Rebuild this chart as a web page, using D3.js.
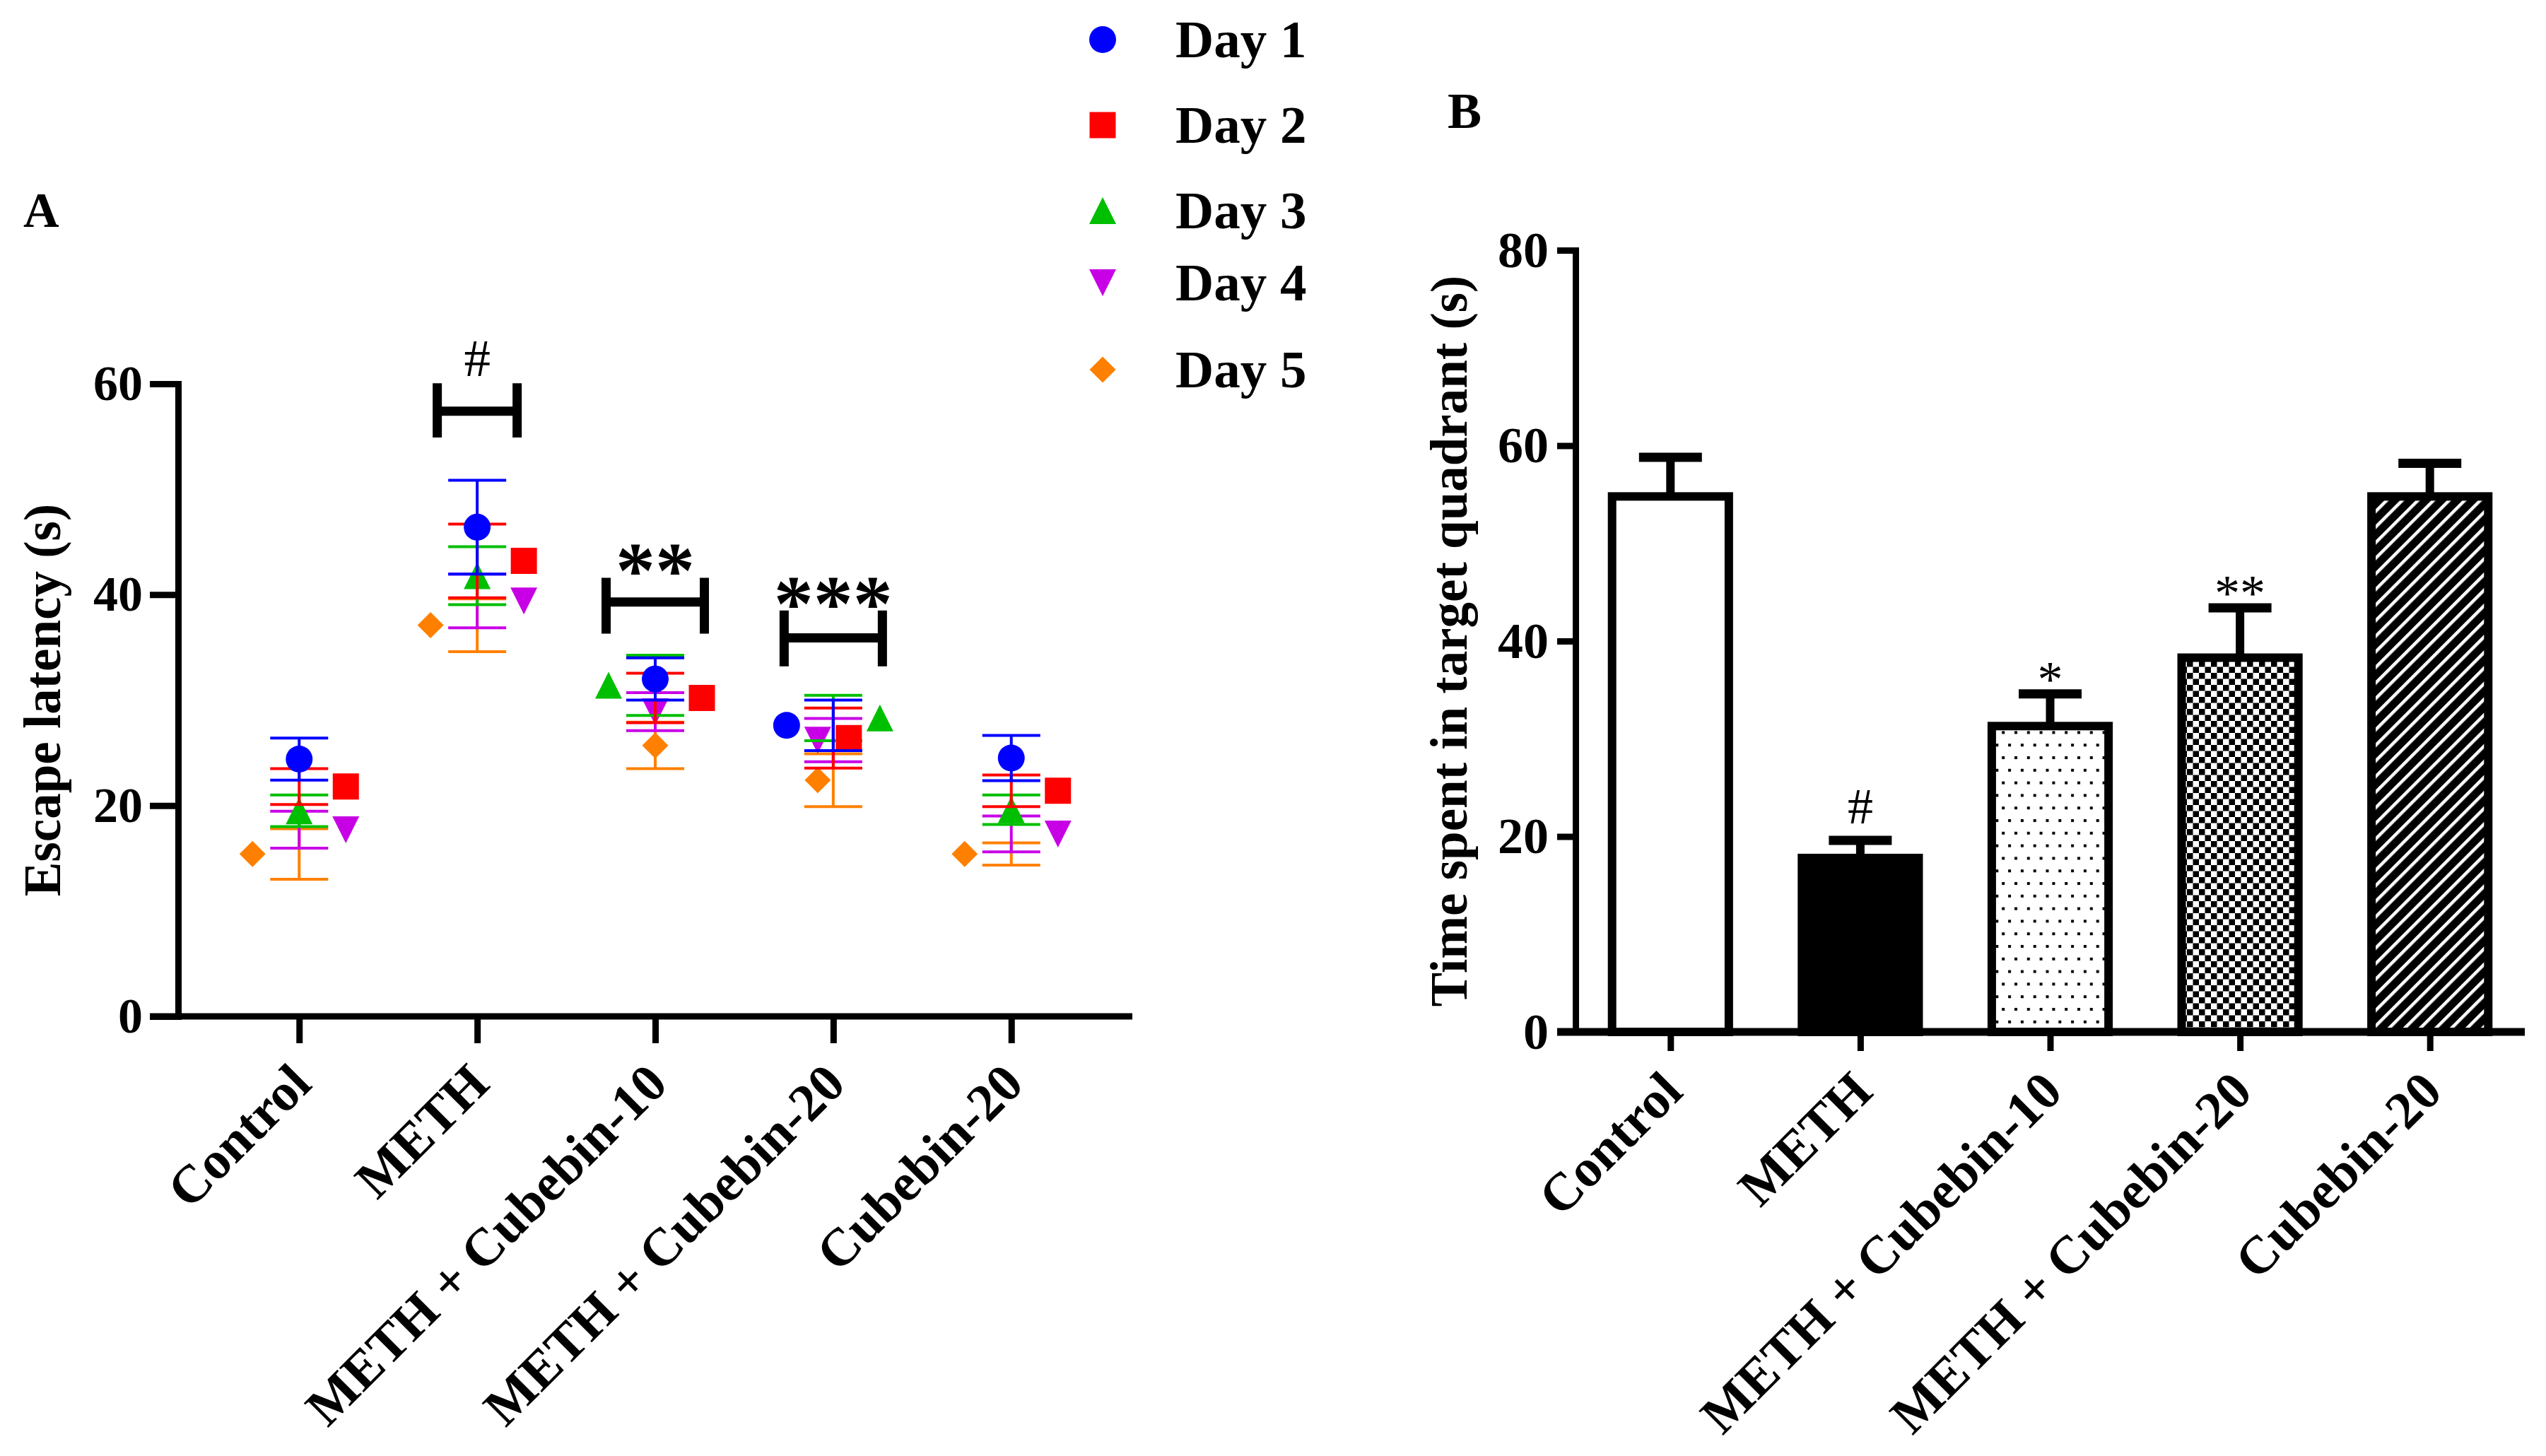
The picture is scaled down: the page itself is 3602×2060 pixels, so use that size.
<!DOCTYPE html>
<html>
<head>
<meta charset="utf-8">
<script src="https://cdn.jsdelivr.net/npm/d3@7"></script>
<style>
  body { margin: 0; background: #fff; }
  svg { display: block; font-family: "Liberation Serif", "Times New Roman", serif; }
</style>
</head>
<body>
<svg id="chart" width="3602" height="2060"></svg>
<script>
// ---- data ----
const groups = ["Control", "METH", "METH + Cubebin-10", "METH + Cubebin-20", "Cubebin-20"];
const days = ["Day 1", "Day 2", "Day 3", "Day 4", "Day 5"];

// Panel A: escape latency (s), one row per day, one column per group
const latencyMean = [
  [24.4, 46.4, 32.0, 27.6, 24.5],
  [21.8, 43.2, 30.2, 26.4, 21.4],
  [19.5, 41.8, 31.4, 28.3, 19.6],
  [17.7, 39.4, 28.9, 26.2, 17.3],
  [15.4, 37.1, 25.7, 22.4, 15.4]
];
const latencySem = [
  [2.0, 4.45, 2.0, 2.4, 2.15],
  [1.7, 3.5, 2.35, 2.85, 1.5],
  [1.5, 2.75, 2.85, 2.15, 1.4],
  [1.75, 2.55, 1.8, 2.05, 1.7],
  [2.4, 2.5, 2.2, 2.5, 1.05]
];
// symbol nudge slot (GraphPad spreads overlapping symbols sideways)
const latencyNudge = [
  [0, 0, 0, -3, 0],
  [3, 3, 3, 1, 3],
  [0, 0, -3, 3, 0],
  [3, 3, 0, -1, 3],
  [-3, -3, 0, -1, -3]
];
const sigGroupsA = ["METH", "METH + Cubebin-10", "METH + Cubebin-20"];
const sigLabelsA = ["#", "**", "***"];
const sigMidA = [57.4, 39.3, 35.9];
const sigLowA = [54.9, 36.3, 33.2];
const sigHighA = [60.05, 41.6, 38.5];
const ticksA = [0, 20, 40, 60];

// Panel B: time spent in target quadrant (s)
const timeMean = [54.8, 17.8, 31.3, 38.3, 54.8];
const timeSem = [4.0, 1.8, 3.3, 5.1, 3.4];
const timeSig = ["", "#", "*", "**", ""];
const ticksB = [0, 20, 40, 60, 80];

// ---- styles ----
const dayColors = ["#0000FF", "#FF0000", "#00BF00", "#C800E6", "#FF8000"];
const fillsB = ["#fff", "#000", "url(#dots)", "url(#checker)", "url(#stripes)"];
const bracketW = [113, 139, 139];
const legendY = [56, 177, 298, 400, 523];

const triUp = { draw(ctx, size) { const w = Math.sqrt(size) / 2; ctx.moveTo(0, -w); ctx.lineTo(w, w); ctx.lineTo(-w, w); ctx.closePath(); } };
const triDown = { draw(ctx, size) { const w = Math.sqrt(size) / 2; ctx.moveTo(0, w); ctx.lineTo(w, -w); ctx.lineTo(-w, -w); ctx.closePath(); } };
const diamond = { draw(ctx, size) { const w = Math.sqrt(size) / 2; ctx.moveTo(0, -w); ctx.lineTo(w, 0); ctx.lineTo(0, w); ctx.lineTo(-w, 0); ctx.closePath(); } };
const daySymbols = [
  d3.symbol().type(d3.symbolCircle).size(Math.PI * 19 * 19),
  d3.symbol().type(d3.symbolSquare).size(37 * 37),
  d3.symbol().type(triUp).size(38 * 38),
  d3.symbol().type(triDown).size(38 * 38),
  d3.symbol().type(diamond).size(37 * 37)
];

const svg = d3.select("#chart");
svg.append("rect").attr("width", 3602).attr("height", 2060).attr("fill", "#fff");

// fill patterns for panel B
const defs = svg.append("defs");
const dots = defs.append("pattern").attr("id", "dots").attr("patternUnits", "userSpaceOnUse")
  .attr("width", 17.8).attr("height", 35.6);
dots.append("rect").attr("width", 17.8).attr("height", 35.6).attr("fill", "#fff");
dots.append("rect").attr("x", 2).attr("y", 2).attr("width", 4).attr("height", 4).attr("fill", "#000");
dots.append("rect").attr("x", 10.9).attr("y", 19.8).attr("width", 4).attr("height", 4).attr("fill", "#000");

const checker = defs.append("pattern").attr("id", "checker").attr("patternUnits", "userSpaceOnUse")
  .attr("width", 17).attr("height", 17);
checker.append("rect").attr("width", 17).attr("height", 17).attr("fill", "#fff");
checker.append("rect").attr("width", 8.5).attr("height", 8.5).attr("fill", "#000");
checker.append("rect").attr("x", 8.5).attr("y", 8.5).attr("width", 8.5).attr("height", 8.5).attr("fill", "#000");

const stripes = defs.append("pattern").attr("id", "stripes").attr("patternUnits", "userSpaceOnUse")
  .attr("width", 15.6).attr("height", 15.6).attr("patternTransform", "rotate(45)");
stripes.append("rect").attr("width", 15.6).attr("height", 15.6).attr("fill", "#000");
stripes.append("rect").attr("width", 4.5).attr("height", 15.6).attr("fill", "#fff");

function styleAxis(g, stroke, fontSize) {
  g.select(".domain").attr("stroke", "#000").attr("stroke-width", stroke).attr("stroke-linecap", "square");
  g.selectAll(".tick line").attr("stroke", "#000").attr("stroke-width", stroke);
  g.selectAll(".tick text").attr("fill", "#000")
    .style("font-size", fontSize + "px").style("font-weight", "bold")
    .style("font-family", "'Liberation Serif', 'Times New Roman', serif");
}

function rotateLabels(g, tickLen) {
  g.selectAll(".tick text")
    .attr("x", 0).attr("y", 0).attr("dy", 0)
    .attr("text-anchor", "end")
    .attr("transform", `translate(20,${tickLen + 61}) rotate(-45)`);
}

// ================= Panel A =================
const xA = d3.scalePoint().domain(groups).range([252, 1602]).padding(0.68);
const yA = d3.scaleLinear().domain([0, 60]).range([1438, 543]);
const yAxisTickA = 40, xAxisTickA = 38;

const gyA = svg.append("g").attr("transform", `translate(${xA.range()[0]},0)`)
  .call(d3.axisLeft(yA).tickValues(ticksA).tickSize(yAxisTickA).tickSizeOuter(0).tickPadding(10));
styleAxis(gyA, 9, 70);

const gxA = svg.append("g").attr("transform", `translate(0,${yA(0)})`)
  .call(d3.axisBottom(xA).tickSize(xAxisTickA).tickSizeOuter(0));
gxA.select(".domain").remove();
styleAxis(gxA, 9, 75);
rotateLabels(gxA, xAxisTickA);
svg.append("line")
  .attr("x1", xA.range()[0] - yAxisTickA).attr("x2", xA.range()[1])
  .attr("y1", yA(0)).attr("y2", yA(0))
  .attr("stroke", "#000").attr("stroke-width", 9);

// error bars + symbols, Day 5 first so Day 1 ends on top
const nudgeStep = 22, capHalf = 41;
for (let d = days.length - 1; d >= 0; d--) {
  const rows = groups.map((g, i) => ({ g, m: latencyMean[d][i], s: latencySem[d][i], n: latencyNudge[d][i] }));
  const layer = svg.append("g").attr("class", "day-" + (d + 1));
  const eb = layer.selectAll(".err").data(rows).join("g").attr("class", "err")
    .attr("stroke", dayColors[d]).attr("stroke-width", 4);
  eb.append("line").attr("x1", r => xA(r.g)).attr("x2", r => xA(r.g))
    .attr("y1", r => yA(r.m - r.s)).attr("y2", r => yA(r.m + r.s));
  eb.append("line").attr("x1", r => xA(r.g) - capHalf).attr("x2", r => xA(r.g) + capHalf)
    .attr("y1", r => yA(r.m + r.s)).attr("y2", r => yA(r.m + r.s));
  eb.append("line").attr("x1", r => xA(r.g) - capHalf).attr("x2", r => xA(r.g) + capHalf)
    .attr("y1", r => yA(r.m - r.s)).attr("y2", r => yA(r.m - r.s));
  layer.selectAll(".sym").data(rows).join("path").attr("class", "sym")
    .attr("d", daySymbols[d])
    .attr("transform", r => `translate(${xA(r.g) + r.n * nudgeStep},${yA(r.m)})`)
    .attr("fill", dayColors[d]);
}

// significance brackets
sigGroupsA.forEach((g, i) => {
  const cx = xA(g), w = bracketW[i] / 2;
  const top = yA(sigHighA[i]), bot = yA(sigLowA[i]), mid = yA(sigMidA[i]);
  svg.append("path")
    .attr("d", `M${cx - w},${top}V${bot}M${cx - w},${mid}H${cx + w}M${cx + w},${top}V${bot}`)
    .attr("fill", "none").attr("stroke", "#000").attr("stroke-width", 13);
  const isHash = sigLabelsA[i] === "#";
  svg.append("text")
    .attr("x", cx).attr("y", isHash ? top - 10 : top + 28)
    .attr("text-anchor", "middle")
    .style("font-size", isHash ? "75px" : "112px")
    .style("font-weight", isHash ? "normal" : "bold")
    .text(sigLabelsA[i]);
});

svg.append("text")
  .attr("transform", `translate(85,${(yA(0) + yA(60)) / 2}) rotate(-90)`)
  .attr("text-anchor", "middle")
  .style("font-size", "73px").style("font-weight", "bold")
  .text("Escape latency (s)");

svg.append("text").attr("x", 33).attr("y", 321)
  .style("font-size", "70px").style("font-weight", "bold").text("A");

// legend
const legend = svg.append("g").selectAll("g").data(days).join("g")
  .attr("transform", (d, i) => `translate(1560,${legendY[i]})`);
legend.append("path").attr("d", (d, i) => daySymbols[i]()).attr("fill", (d, i) => dayColors[i]);
legend.append("text").attr("x", 103).attr("y", 25)
  .style("font-size", "75px").style("font-weight", "bold").text(d => d);

// ================= Panel B =================
const xB = d3.scalePoint().domain(groups).range([2229, 3572]).padding(0.5);
const yB = d3.scaleLinear().domain([0, 80]).range([1460, 354]);
const yAxisTickB = 26, xAxisTickB = 27;
const barW = xB.step() * 0.615, capHalfB = 44.5;

const gyB = svg.append("g").attr("transform", `translate(${xB.range()[0]},0)`)
  .call(d3.axisLeft(yB).tickValues(ticksB).tickSize(yAxisTickB).tickSizeOuter(0).tickPadding(12));
styleAxis(gyB, 9, 72);

const barsB = groups.map((g, i) => ({ g, m: timeMean[i], s: timeSem[i], sig: timeSig[i], fill: fillsB[i] }));

const errB = svg.append("g").selectAll("g").data(barsB).join("g")
  .attr("stroke", "#000");
errB.append("line").attr("x1", r => xB(r.g)).attr("x2", r => xB(r.g))
  .attr("y1", r => yB(r.m)).attr("y2", r => yB(r.m + r.s)).attr("stroke-width", 12);
errB.append("line").attr("x1", r => xB(r.g) - capHalfB).attr("x2", r => xB(r.g) + capHalfB)
  .attr("y1", r => yB(r.m + r.s)).attr("y2", r => yB(r.m + r.s)).attr("stroke-width", 13);

svg.append("g").selectAll("rect").data(barsB).join("rect")
  .attr("x", r => xB(r.g) - barW / 2).attr("width", barW)
  .attr("y", r => yB(r.m)).attr("height", r => yB(0) - yB(r.m))
  .attr("fill", r => r.fill).attr("stroke", "#000").attr("stroke-width", 12);

svg.append("g").selectAll("text").data(barsB.filter(r => r.sig)).join("text")
  .attr("x", r => xB(r.g))
  .attr("y", r => yB(r.m + r.s) + (r.sig === "#" ? -24 : 3))
  .attr("text-anchor", "middle")
  .style("font-size", "72px")
  .text(r => r.sig);

const gxB = svg.append("g").attr("transform", `translate(0,${yB(0)})`)
  .call(d3.axisBottom(xB).tickSize(xAxisTickB).tickSizeOuter(0));
gxB.select(".domain").remove();
styleAxis(gxB, 9, 75);
rotateLabels(gxB, xAxisTickB);
svg.append("line")
  .attr("x1", xB.range()[0] - yAxisTickB).attr("x2", xB.range()[1])
  .attr("y1", yB(0)).attr("y2", yB(0))
  .attr("stroke", "#000").attr("stroke-width", 11);

svg.append("text")
  .attr("transform", `translate(2075,${(yB(0) + yB(80)) / 2}) rotate(-90)`)
  .attr("text-anchor", "middle")
  .style("font-size", "73px").style("font-weight", "bold")
  .text("Time spent in target quadrant (s)");

svg.append("text").attr("x", 2048).attr("y", 181)
  .style("font-size", "72px").style("font-weight", "bold").text("B");
</script>
</body>
</html>
